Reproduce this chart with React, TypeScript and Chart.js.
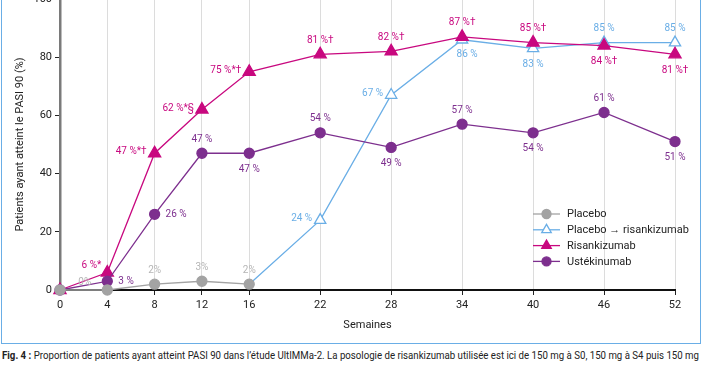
import React, { useEffect, useRef } from 'react';
import { Chart, registerables } from 'chart.js';
Chart.register(...registerables);

// ---------- data ----------
const WEEKS = [0, 4, 8, 12, 16, 22, 28, 34, 40, 46, 52];
const Y_TICKS = [0, 20, 40, 60, 80, 100];

const PLACEBO_WEEKS = [0, 4, 8, 12, 16];
const PLACEBO = [0, 0, 2, 3, 2];
const PLACEBO_LABELS = ['', '0%', '2%', '3%', '2%'];

const SWITCH_WEEKS = [16, 22, 28, 34, 40, 46, 52];
const SWITCH = [2, 24, 67, 86, 83, 85, 85];
const SWITCH_LABELS = ['', '24 %', '67 %', '86 %', '83 %', '85 %', '85 %'];

const RISANK = [0, 6, 47, 62, 75, 81, 82, 87, 85, 84, 81];
const RISANK_LABELS = ['', '6 %*', '47 %*†', '62 %*§', '75 %*†', '81 %†', '82 %†', '87 %†', '85 %†', '84 %†', '81 %†'];

const USTEK = [0, 3, 26, 47, 47, 54, 49, 57, 54, 61, 51];
const USTEK_LABELS = ['', '3 %', '26 %', '47 %', '47 %', '54 %', '49 %', '57 %', '54 %', '61 %', '51 %'];

const SERIES_NAMES = ['Placebo', 'Placebo → risankizumab', 'Risankizumab', 'Ustékinumab'];

// ---------- label placement codes (style) ----------
const PLACEBO_POS = ['', 'fl', 'a', 'a', 'a'];
const SWITCH_POS = ['', 'l', 'l', 'br', 'b', 'a', 'a'];
const RISANK_POS = ['', 'al', 'l', 'l', 'l', 'a', 'a', 'a', 'a', 'b', 'b'];
const USTEK_POS = ['', 'r', 'r', 'a', 'b', 'a', 'b', 'a', 'b', 'a', 'b'];

const OFFSETS: Record<string, { dx: number; dy: number; align: CanvasTextAlign }> = {
  a: { dx: 0, dy: -14, align: 'center' },
  b: { dx: 0, dy: 16, align: 'center' },
  br: { dx: 5, dy: 15, align: 'center' },
  l: { dx: -8, dy: -1.5, align: 'right' },
  r: { dx: 11, dy: 0, align: 'left' },
  al: { dx: -6, dy: -7, align: 'right' },
  fl: { dx: -16, dy: -7.5, align: 'right' },
};

const GREY = '#a3a3a3';
const GREY_TXT = '#b5b5b5';
const BLUE = '#6aaee6';
const MAGENTA = '#c8087f';
const PURPLE = '#7d2f8e';
const FONT = "'Roboto', sans-serif";

const LABEL_TEXTS = [PLACEBO_LABELS, SWITCH_LABELS, RISANK_LABELS, USTEK_LABELS];
const LABEL_POS = [PLACEBO_POS, SWITCH_POS, RISANK_POS, USTEK_POS];
const LABEL_COLORS = [GREY_TXT, BLUE, MAGENTA, PURPLE];

function drawMarker(ctx: CanvasRenderingContext2D, style: string, x: number, y: number, r: number, fill: string, stroke: string, lw: number) {
  ctx.beginPath();
  if (style === 'triangle') {
    let rad = 0;
    ctx.moveTo(x + Math.sin(rad) * r, y - Math.cos(rad) * r);
    rad += (2 * Math.PI) / 3;
    ctx.lineTo(x + Math.sin(rad) * r, y - Math.cos(rad) * r);
    rad += (2 * Math.PI) / 3;
    ctx.lineTo(x + Math.sin(rad) * r, y - Math.cos(rad) * r);
    ctx.closePath();
  } else {
    ctx.arc(x, y, r, 0, Math.PI * 2);
  }
  ctx.fillStyle = fill;
  ctx.fill();
  ctx.lineWidth = lw;
  ctx.strokeStyle = stroke;
  ctx.stroke();
}

const labelPlugin = {
  id: 'pointLabels',
  afterDatasetsDraw(chart: any) {
    const ctx = chart.ctx as CanvasRenderingContext2D;
    ctx.save();
    ctx.font = `10px ${FONT}`;
    ctx.textBaseline = 'middle';
    chart.data.datasets.forEach((_ds: any, i: number) => {
      const meta = chart.getDatasetMeta(i);
      meta.data.forEach((pt: any, j: number) => {
        const t = LABEL_TEXTS[i][j];
        if (!t) return;
        const o = OFFSETS[LABEL_POS[i][j]];
        ctx.fillStyle = LABEL_COLORS[i];
        ctx.textAlign = o.align;
        ctx.fillText(t, pt.x + o.dx, pt.y + o.dy);
      });
    });
    ctx.restore();
  },
};

const legendPlugin = {
  id: 'customLegend',
  afterDraw(chart: any) {
    const ctx = chart.ctx as CanvasRenderingContext2D;
    const area = chart.chartArea;
    const x0 = area.right - 142;
    const x1 = area.right - 115;
    const xm = (x0 + x1) / 2;
    const y0 = area.bottom - 76;
    ctx.save();
    ctx.font = `11px ${FONT}`;
    ctx.textBaseline = 'middle';
    ctx.textAlign = 'left';
    SERIES_NAMES.forEach((name, i) => {
      const ds = chart.data.datasets[i];
      const y = y0 + i * 15.8;
      ctx.beginPath();
      ctx.moveTo(x0, y);
      ctx.lineTo(x1, y);
      ctx.strokeStyle = ds.borderColor;
      ctx.lineWidth = 1.3;
      ctx.stroke();
      const style = ds.pointStyle;
      drawMarker(ctx, style, xm, y, style === 'triangle' ? 5.5 : 4.5, ds.legendFill, ds.borderColor, 1.3);
      ctx.fillStyle = '#222';
      ctx.fillText(name, area.right - 108, y + 0.5);
    });
    ctx.restore();
  },
};

export default function App() {
  const ref = useRef<HTMLCanvasElement>(null);
  const capRef = useRef<HTMLDivElement>(null);

  useEffect(() => {
    const tickFont = { family: FONT, size: 11 };
    const chart = new Chart(ref.current as HTMLCanvasElement, {
      type: 'line',
      data: {
        datasets: [
          {
            label: SERIES_NAMES[0],
            data: PLACEBO_WEEKS.map((x, i) => ({ x, y: PLACEBO[i] })),
            borderColor: GREY,
            backgroundColor: GREY,
            pointBackgroundColor: GREY,
            pointBorderColor: GREY,
            pointStyle: 'circle',
            pointRadius: 5,
            borderWidth: 1.3,
            order: 0,
            clip: false,
            legendFill: GREY,
          } as any,
          {
            label: SERIES_NAMES[1],
            data: SWITCH_WEEKS.map((x, i) => ({ x, y: SWITCH[i] })),
            borderColor: BLUE,
            backgroundColor: '#ffffff',
            pointBackgroundColor: '#ffffff',
            pointBorderColor: BLUE,
            pointStyle: 'triangle',
            pointRadius: (c: any) => (c.dataIndex === 0 ? 0 : 6.5),
            pointBorderWidth: 1.3,
            borderWidth: 1.3,
            order: 3,
            clip: false,
            legendFill: '#ffffff',
          } as any,
          {
            label: SERIES_NAMES[2],
            data: WEEKS.map((x, i) => ({ x, y: RISANK[i] })),
            borderColor: MAGENTA,
            backgroundColor: MAGENTA,
            pointBackgroundColor: MAGENTA,
            pointBorderColor: MAGENTA,
            pointStyle: 'triangle',
            pointRadius: 7,
            borderWidth: 1.3,
            order: 2,
            clip: false,
            legendFill: MAGENTA,
          } as any,
          {
            label: SERIES_NAMES[3],
            data: WEEKS.map((x, i) => ({ x, y: USTEK[i] })),
            borderColor: PURPLE,
            backgroundColor: PURPLE,
            pointBackgroundColor: PURPLE,
            pointBorderColor: PURPLE,
            pointStyle: 'circle',
            pointRadius: 5,
            borderWidth: 1.3,
            order: 1,
            clip: false,
            legendFill: PURPLE,
          } as any,
        ],
      },
      options: {
        animation: false,
        responsive: false,
        devicePixelRatio: 1,
        layout: { padding: { left: 2, right: 27, top: 11, bottom: 0 } },
        plugins: {
          legend: { display: false },
          tooltip: { enabled: false },
          title: { display: false },
        },
        scales: {
          x: {
            type: 'linear',
            min: 0,
            max: 52,
            afterBuildTicks: (s: any) => {
              s.ticks = WEEKS.map((v) => ({ value: v }));
            },
            afterFit: (s: any) => {
              s.height = 54;
            },
            ticks: {
              font: tickFont,
              color: '#222',
              padding: 3.5,
              autoSkip: false,
              maxRotation: 0,
              callback: (v: any) => String(v),
            },
            grid: { color: '#dcdcdc', lineWidth: 1, tickColor: '#222', tickLength: 5, drawTicks: true },
            border: { color: '#111', width: 2 },
            title: {
              display: true,
              text: 'Semaines',
              font: tickFont,
              color: '#222',
              padding: { top: 0, bottom: 11.7 },
            },
          },
          y: {
            type: 'linear',
            min: 0,
            max: 100,
            afterBuildTicks: (s: any) => {
              s.ticks = Y_TICKS.map((v) => ({ value: v }));
            },
            afterFit: (s: any) => {
              s.width = 58;
            },
            ticks: { font: tickFont, color: '#222', padding: 3 },
            grid: { drawOnChartArea: false, tickColor: '#222', tickLength: 5 },
            border: { color: '#7a7a7a', width: 2.5 },
            title: {
              display: true,
              text: 'Patients ayant atteint le PASI 90 (%)',
              font: tickFont,
              color: '#222',
              padding: { top: 11.4, bottom: 0 },
            },
          },
        },
      } as any,
      plugins: [labelPlugin, legendPlugin],
    });

    const el = capRef.current;
    if (el) {
      el.style.transform = 'none';
      const w = el.getBoundingClientRect().width;
      if (w > 0) el.style.transform = `scaleX(${697 / w})`;
    }
    return () => chart.destroy();
  }, []);

  return (
    <div style={{ position: 'fixed', left: 0, top: 0, width: 702, height: 370, background: '#fff', overflow: 'hidden' }}>
      <div
        style={{
          position: 'absolute',
          left: 1,
          top: -10,
          width: 700,
          height: 354,
          border: '1.5px solid #6aaee6',
          boxSizing: 'border-box',
        }}
      />
      <canvas
        ref={ref}
        width={702}
        height={356}
        style={{ position: 'absolute', left: 0, top: -12, width: 702, height: 356 }}
      />
      <div
        ref={capRef}
        style={{
          position: 'absolute',
          left: 2,
          top: 348,
          whiteSpace: 'nowrap',
          fontFamily: FONT,
          fontSize: 11.5,
          lineHeight: '14px',
          color: '#222',
          transformOrigin: 'left top',
        }}
      >
        <b>Fig. 4 :</b> Proportion de patients ayant atteint PASI 90 dans l’étude UltIMMa-2. La posologie de risankizumab utilisée est ici de 150 mg à S0, 150 mg à S4 puis 150 mg
      </div>
    </div>
  );
}
